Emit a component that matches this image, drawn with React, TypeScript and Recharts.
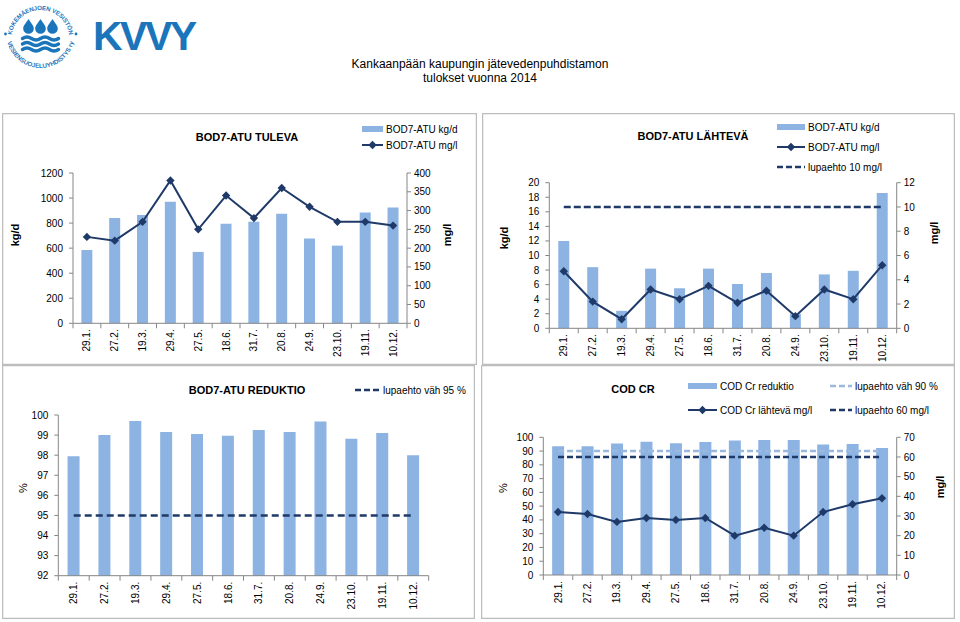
import React from 'react';
import { ComposedChart, Bar, Line, XAxis, YAxis, Legend } from 'recharts';

// ---------- data ----------
const dates = ['29.1.', '27.2.', '19.3.', '29.4.', '27.5.', '18.6.', '31.7.', '20.8.', '24.9.', '23.10.', '19.11.', '10.12.'];

const tulevaKgd = [585, 840, 865, 970, 570, 795, 810, 875, 678, 620, 885, 925];
const tulevaMgl = [230, 220, 270, 380, 250, 340, 280, 360, 310, 270, 270, 260];
const tulevaLeftTicks = [0, 200, 400, 600, 800, 1000, 1200];
const tulevaRightTicks = [0, 50, 100, 150, 200, 250, 300, 350, 400];

const lahtevaKgd = [12.0, 8.4, 2.4, 8.2, 5.5, 8.2, 6.1, 7.6, 2.0, 7.4, 7.9, 18.6];
const lahtevaMgl = [4.7, 2.2, 0.75, 3.2, 2.4, 3.5, 2.1, 3.1, 1.0, 3.2, 2.4, 5.2];
const lupaehto10 = [10, 10, 10, 10, 10, 10, 10, 10, 10, 10, 10, 10];
const lahtevaLeftTicks = [0, 2, 4, 6, 8, 10, 12, 14, 16, 18, 20];
const lahtevaRightTicks = [0, 2, 4, 6, 8, 10, 12];

const bodReduktio = [97.95, 99.0, 99.7, 99.15, 99.05, 98.97, 99.25, 99.15, 99.68, 98.82, 99.1, 98.0];
const lupaehto95 = [95, 95, 95, 95, 95, 95, 95, 95, 95, 95, 95, 95];
const reduktioTicks = [92, 93, 94, 95, 96, 97, 98, 99, 100];

const codReduktio = [93.5, 93.5, 95.5, 96.8, 95.6, 96.6, 97.6, 98.1, 98.0, 94.7, 95.2, 92.3];
const codMgl = [32, 31, 27, 29, 28, 29, 20, 24, 20, 32, 36, 39];
const lupaehto90 = [90, 90, 90, 90, 90, 90, 90, 90, 90, 90, 90, 90];
const lupaehto60 = [60, 60, 60, 60, 60, 60, 60, 60, 60, 60, 60, 60];
const codLeftTicks = [0, 10, 20, 30, 40, 50, 60, 70, 80, 90, 100];
const codRightTicks = [0, 10, 20, 30, 40, 50, 60, 70];

const tulevaRows = dates.map((d, i) => ({ date: d, kgd: tulevaKgd[i], mgl: tulevaMgl[i] }));
const lahtevaRows = dates.map((d, i) => ({ date: d, kgd: lahtevaKgd[i], mgl: lahtevaMgl[i], lupa: lupaehto10[i] }));
const reduktioRows = dates.map((d, i) => ({ date: d, red: bodReduktio[i], lupa: lupaehto95[i] }));
const codRows = dates.map((d, i) => ({ date: d, red: codReduktio[i], mgl: codMgl[i], lupa90: lupaehto90[i], lupa60: lupaehto60[i] }));

// ---------- style ----------
const FONT = '"Liberation Sans", Arial, Helvetica, sans-serif';
const AXIS = '#868686';
const BAR = '#8DB3E2';
const NAVY = '#1F3A68';
const LIGHTDASH = '#9BB9DF';
const LOGO = '#1B75BB';
const BORDER = '#BDBDBD';

const tickStyle = { fontSize: 10, fill: '#000', fontFamily: FONT };

function XTick(props: any) {
  const { x, y, payload, index, band, count } = props;
  const h = band / 2;
  return (
    <g>
      <line x1={x - h} x2={x - h} y1={y} y2={y + 5} stroke={AXIS} />
      {index === count - 1 ? <line x1={x + h} x2={x + h} y1={y} y2={y + 5} stroke={AXIS} /> : null}
      <text
        transform={`translate(${x + 3.5},${y + 6}) rotate(-90)`}
        textAnchor="end"
        fontSize={10}
        fill="#000"
        fontFamily={FONT}
      >
        {payload.value}
      </text>
    </g>
  );
}

function Diamond(props: any) {
  const { cx, cy } = props;
  if (cx == null || cy == null) return <g />;
  const s = 4.2;
  return <path d={`M${cx},${cy - s}L${cx + s},${cy}L${cx},${cy + s}L${cx - s},${cy}Z`} fill={NAVY} />;
}

const axisTitle = (text: string, cx: number, cy: number, bold = true) => ({
  content: () => (
    <text
      transform={`translate(${cx},${cy}) rotate(-90)`}
      textAnchor="middle"
      dominantBaseline="central"
      fontSize={11}
      fontWeight={bold ? 700 : 400}
      fontFamily={FONT}
      fill="#000"
    >
      {text}
    </text>
  ),
});

type LegendItem = { kind: 'bar' | 'line' | 'dash' | 'lightdash'; x: number; y: number; w: number; label: string };

function LegendSvg({ items, w, h }: { items: LegendItem[]; w: number; h: number }) {
  return (
    <svg width={w} height={h} style={{ position: 'absolute', left: 0, top: 0, overflow: 'visible' }}>
      {items.map((it, i) => (
        <g key={i}>
          {it.kind === 'bar' && <rect x={it.x} y={it.y - 3} width={it.w} height={6} fill={BAR} />}
          {it.kind === 'line' && (
            <g>
              <line x1={it.x} x2={it.x + it.w} y1={it.y} y2={it.y} stroke={NAVY} strokeWidth={2} />
              <Diamond cx={it.x + it.w / 2} cy={it.y} />
            </g>
          )}
          {it.kind === 'dash' && (
            <line x1={it.x} x2={it.x + it.w} y1={it.y} y2={it.y} stroke={NAVY} strokeWidth={2.5} strokeDasharray="6 3" />
          )}
          {it.kind === 'lightdash' && (
            <line x1={it.x} x2={it.x + it.w} y1={it.y} y2={it.y} stroke={LIGHTDASH} strokeWidth={2.5} strokeDasharray="6 3" />
          )}
          <text x={it.x + it.w + 3} y={it.y} dominantBaseline="central" fontSize={10} fontFamily={FONT} fill="#000">
            {it.label}
          </text>
        </g>
      ))}
    </svg>
  );
}

function Panel({ x, y, w, h, title, tx, ty, children }: any) {
  return (
    <div style={{ position: 'absolute', left: x, top: y, width: w, height: h }}>
      {children}
      <svg width={w} height={h} style={{ position: 'absolute', left: 0, top: 0, pointerEvents: 'none' }}>
        <rect x={0.5} y={0.5} width={w - 1} height={h - 1} fill="none" stroke={BORDER} strokeWidth={1.5} />
        <text x={tx} y={ty} textAnchor="middle" dominantBaseline="central" fontSize={11} fontWeight={700} fontFamily={FONT} fill="#000">
          {title}
        </text>
      </svg>
    </div>
  );
}

const yAxisCommon = {
  interval: 0 as const,
  tickSize: 4,
  axisLine: { stroke: AXIS },
  tickLine: { stroke: AXIS },
  tick: tickStyle,
};

function xAxisProps(band: number, height: number) {
  return {
    dataKey: 'date',
    height,
    interval: 0 as const,
    tickSize: 0,
    tickMargin: 0,
    tickLine: false,
    axisLine: { stroke: AXIS },
    tick: (p: any) => <XTick {...p} band={band} count={dates.length} />,
  };
}

function legendProps(w: number, h: number, items: LegendItem[]) {
  return {
    layout: 'horizontal' as const,
    verticalAlign: 'middle' as const,
    align: 'center' as const,
    wrapperStyle: { position: 'absolute' as const, left: 0, top: 0, width: w, height: h, pointerEvents: 'none' as const },
    content: () => <LegendSvg items={items} w={w} h={h} />,
  };
}

function Logo() {
  const cx = 40.5;
  const cy = 37;
  const drops = [28.5, 40.5, 52.5];
  return (
    <svg width={210} height={76} style={{ position: 'absolute', left: 0, top: 0 }}>
      <defs>
        <path id="logoArcTop" d={`M ${cx - 29},${cy + 2} A 29,29 0 0 1 ${cx + 29},${cy + 2}`} />
        <path id="logoArcBot" d={`M ${cx - 34},${cy - 3} A 34,34 0 0 0 ${cx + 34},${cy - 3}`} />
      </defs>
      <text fontSize={6.1} fontWeight={700} fill={LOGO} fontFamily={FONT} letterSpacing={-0.1}>
        <textPath href="#logoArcTop" startOffset="50%" textAnchor="middle">
          KOKEMÄENJOEN VESISTÖN
        </textPath>
      </text>
      <text fontSize={6.2} fontWeight={700} fill={LOGO} fontFamily={FONT} letterSpacing={0}>
        <textPath href="#logoArcBot" startOffset="50%" textAnchor="middle">
          VESIENSUOJELUYHDISTYS ry
        </textPath>
      </text>
      <circle cx={cx - 35} cy={cy - 3} r={1.4} fill={LOGO} />
      <circle cx={cx + 35.5} cy={cy - 3} r={1.4} fill={LOGO} />
      {drops.map((c) => (
        <path
          key={c}
          d={`M ${c},19 C ${c + 2},22.5 ${c + 5.3},25.5 ${c + 5.3},28.5 A 5.3,5.3 0 0 1 ${c - 5.3},28.5 C ${c - 5.3},25.5 ${c - 2},22.5 ${c},19 Z`}
          fill={LOGO}
        />
      ))}
      {[38.5, 44, 49.5].map((wy) => (
        <path
          key={wy}
          d={`M 22.5,${wy} q 4.5,-3 9,0 t 9,0 t 9,0 t 9,0`}
          fill="none"
          stroke={LOGO}
          strokeWidth={3.4}
          strokeLinecap="round"
        />
      ))}
      <text x={93} y={50} fontSize={41} fontWeight={700} fill={LOGO} fontFamily={FONT} letterSpacing={-2.5}>
        KVVY
      </text>
    </svg>
  );
}

export default function App() {
  return (
    <div style={{ position: 'absolute', left: 0, top: 0, width: 960, height: 622, background: '#fff', fontFamily: FONT, overflow: 'hidden' }}>
      <Logo />
      <div style={{ position: 'absolute', left: 0, top: 57, width: 960, textAlign: 'center', fontSize: 12, lineHeight: '14px', color: '#000' }}>
        Kankaanpään kaupungin jätevedenpuhdistamon
        <br />
        tulokset vuonna 2014
      </div>

      {/* BOD7-ATU TULEVA */}
      <Panel x={2} y={113} w={475} h={252} title="BOD7-ATU TULEVA" tx={245} ty={24}>
        <ComposedChart width={475} height={252} data={tulevaRows} margin={{ top: 60, right: 0, left: 0, bottom: 5.7 }} barCategoryGap="30%">
          <XAxis {...xAxisProps(334 / 12, 36)} />
          <YAxis yAxisId="l" orientation="left" width={71} domain={[0, 1200]} ticks={tulevaLeftTicks} tickMargin={6} {...yAxisCommon} label={axisTitle('kg/d', 13, 122)} />
          <YAxis yAxisId="r" orientation="right" width={70} domain={[0, 400]} ticks={tulevaRightTicks} tickMargin={3} {...yAxisCommon} label={axisTitle('mg/l', 445, 122)} />
          <Bar yAxisId="l" dataKey="kgd" fill={BAR} isAnimationActive={false} />
          <Line yAxisId="r" dataKey="mgl" stroke={NAVY} strokeWidth={2} dot={(p: any) => <Diamond key={p.index} {...p} />} activeDot={false} isAnimationActive={false} />
          <Legend
            {...legendProps(475, 252, [
              { kind: 'bar', x: 360, y: 16, w: 21, label: 'BOD7-ATU kg/d' },
              { kind: 'line', x: 360, y: 32, w: 21, label: 'BOD7-ATU mg/l' },
            ])}
          />
        </ComposedChart>
      </Panel>

      {/* BOD7-ATU LÄHTEVÄ */}
      <Panel x={482} y={113} w={473} h={252} title="BOD7-ATU LÄHTEVÄ" tx={211} ty={23}>
        <ComposedChart width={473} height={252} data={lahtevaRows} margin={{ top: 69.7, right: 0, left: 0, bottom: 2.7 }} barCategoryGap="31%">
          <XAxis {...xAxisProps(347.4 / 12, 34)} />
          <YAxis yAxisId="l" orientation="left" width={67.3} domain={[0, 20]} ticks={lahtevaLeftTicks} tickMargin={6} {...yAxisCommon} label={axisTitle('kg/d', 22, 125)} />
          <YAxis yAxisId="r" orientation="right" width={58.3} domain={[0, 12]} ticks={lahtevaRightTicks} tickMargin={3} {...yAxisCommon} label={axisTitle('mg/l', 452, 120)} />
          <Bar yAxisId="l" dataKey="kgd" fill={BAR} isAnimationActive={false} />
          <Line yAxisId="r" dataKey="lupa" stroke={NAVY} strokeWidth={2.5} strokeDasharray="7 3" dot={false} activeDot={false} isAnimationActive={false} />
          <Line yAxisId="r" dataKey="mgl" stroke={NAVY} strokeWidth={2} dot={(p: any) => <Diamond key={p.index} {...p} />} activeDot={false} isAnimationActive={false} />
          <Legend
            {...legendProps(473, 252, [
              { kind: 'bar', x: 295, y: 14, w: 28, label: 'BOD7-ATU kg/d' },
              { kind: 'line', x: 295, y: 34, w: 28, label: 'BOD7-ATU mg/l' },
              { kind: 'dash', x: 295, y: 54, w: 28, label: 'lupaehto 10 mg/l' },
            ])}
          />
        </ComposedChart>
      </Panel>

      {/* BOD7-ATU REDUKTIO */}
      <Panel x={2} y={365} w={473} h={254} title="BOD7-ATU REDUKTIO" tx={245} ty={25}>
        <ComposedChart width={473} height={254} data={reduktioRows} margin={{ top: 50, right: 46.3, left: 0, bottom: 7.3 }} barCategoryGap="30%">
          <XAxis {...xAxisProps(370.2 / 12, 36)} />
          <YAxis yAxisId="l" orientation="left" width={56.3} domain={[92, 100]} ticks={reduktioTicks} tickMargin={6} {...yAxisCommon} label={axisTitle('%', 21, 123, false)} />
          <Bar yAxisId="l" dataKey="red" fill={BAR} isAnimationActive={false} />
          <Line yAxisId="l" dataKey="lupa" stroke={NAVY} strokeWidth={2.5} strokeDasharray="7 4" dot={false} activeDot={false} isAnimationActive={false} />
          <Legend {...legendProps(473, 254, [{ kind: 'dash', x: 353, y: 25, w: 25, label: 'lupaehto väh 95 %' }])} />
        </ComposedChart>
      </Panel>

      {/* COD CR */}
      <Panel x={481} y={365} w={474} h={254} title="COD CR" tx={152} ty={24}>
        <ComposedChart width={474} height={254} data={codRows} margin={{ top: 72.3, right: 0, left: 0, bottom: 8 }} barCategoryGap="30%">
          <XAxis {...xAxisProps(353.4 / 12, 36)} />
          <YAxis yAxisId="l" orientation="left" width={62.3} domain={[0, 100]} ticks={codLeftTicks} tickMargin={6} {...yAxisCommon} label={axisTitle('%', 22, 123, false)} />
          <YAxis yAxisId="r" orientation="right" width={58.3} domain={[0, 70]} ticks={codRightTicks} tickMargin={3} {...yAxisCommon} label={axisTitle('mg/l', 459, 122)} />
          <Bar yAxisId="l" dataKey="red" fill={BAR} isAnimationActive={false} />
          <Line yAxisId="l" dataKey="lupa90" stroke={LIGHTDASH} strokeWidth={2.5} strokeDasharray="6 3" dot={false} activeDot={false} isAnimationActive={false} />
          <Line yAxisId="r" dataKey="lupa60" stroke={NAVY} strokeWidth={2.5} strokeDasharray="6 3" dot={false} activeDot={false} isAnimationActive={false} />
          <Line yAxisId="r" dataKey="mgl" stroke={NAVY} strokeWidth={2} dot={(p: any) => <Diamond key={p.index} {...p} />} activeDot={false} isAnimationActive={false} />
          <Legend
            {...legendProps(474, 254, [
              { kind: 'bar', x: 207, y: 21, w: 29, label: 'COD Cr reduktio' },
              { kind: 'line', x: 207, y: 45, w: 29, label: 'COD Cr lähtevä mg/l' },
              { kind: 'lightdash', x: 349, y: 21, w: 22, label: 'lupaehto väh 90 %' },
              { kind: 'dash', x: 349, y: 45, w: 22, label: 'lupaehto 60 mg/l' },
            ])}
          />
        </ComposedChart>
      </Panel>
    </div>
  );
}
